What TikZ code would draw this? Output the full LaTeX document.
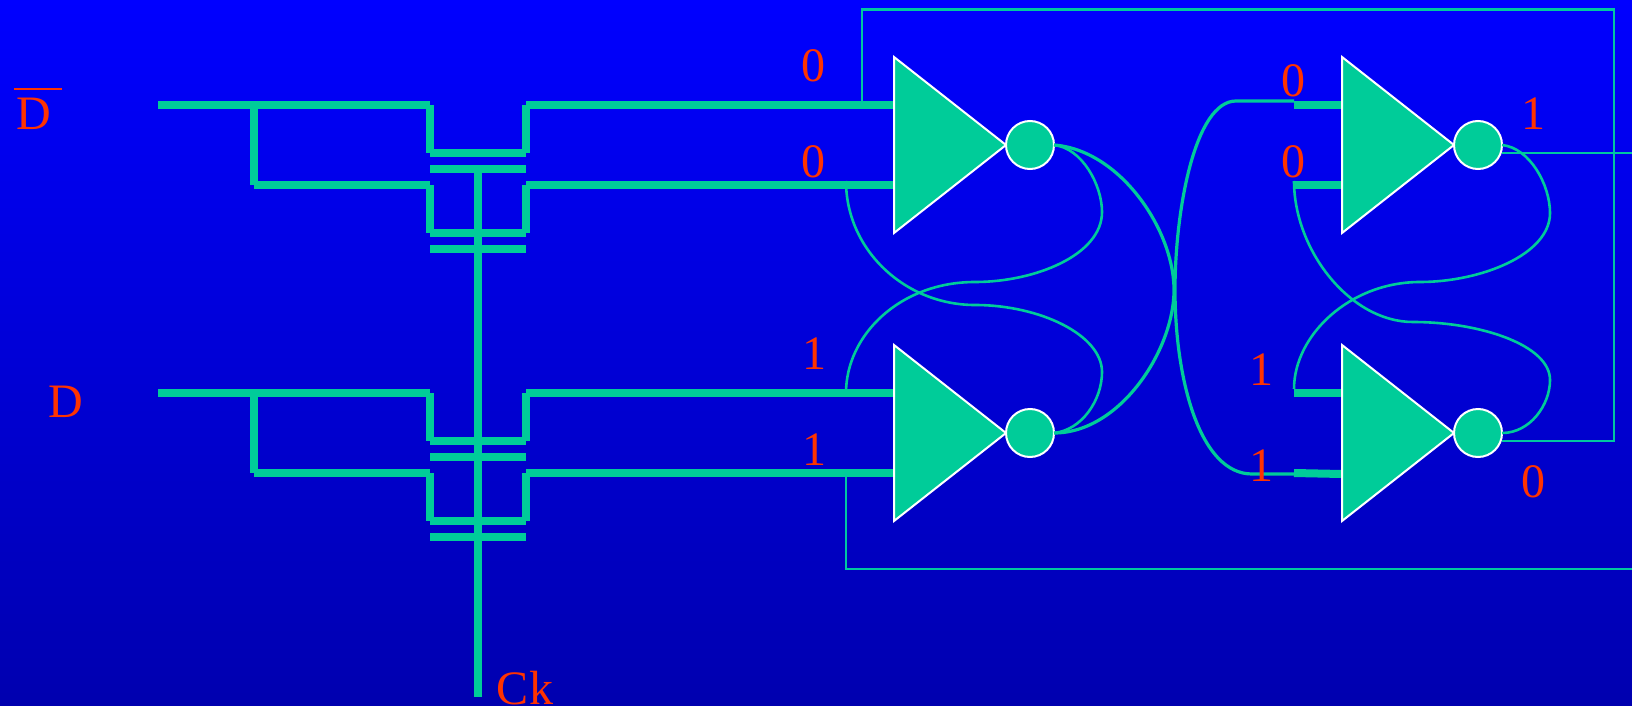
\documentclass[tikz,border=0pt]{standalone}
\usepackage{fontspec}
\setmainfont{Liberation Serif}
\usetikzlibrary{shapes.geometric}
\definecolor{wirecol}{RGB}{0,204,153}
\definecolor{thincol}{RGB}{0,200,160}
\definecolor{labelcol}{RGB}{255,51,0}
\definecolor{bgtop}{RGB}{0,0,255}
\definecolor{bgbot}{RGB}{0,0,175}
\tikzset{
  x=1pt,y=-1pt,
  buswire/.style={draw=wirecol,line width=8pt,line cap=butt,line join=miter},
  clockwire/.style={draw=wirecol,line width=7.8pt,line cap=butt},
  thinwire/.style={draw=thincol,line width=2.4pt,line join=miter},
  curvewire/.style={draw=wirecol,line width=2.6pt},
  heavycurve/.style={draw=wirecol,line width=3.2pt},
  gatetri/.style={shape=isosceles triangle,isosceles triangle stretches,minimum width=176pt,minimum height=112pt,inner sep=0pt,outer sep=0pt,shape border rotate=0,draw=white,fill=wirecol,line width=2pt,line join=miter,anchor=apex},
  bubble/.style={shape=circle,minimum size=48pt,inner sep=0pt,outer sep=0pt,draw=white,fill=wirecol,line width=2pt},
  siglabel/.style={text=labelcol,font=\fontsize{48}{48}\selectfont,inner sep=0pt,outer sep=0pt,anchor=base},
}
\begin{document}
\begin{tikzpicture}
\path[use as bounding box] (0,0) rectangle (1632,706);
\fill[top color=bgtop,bottom color=bgbot] (0,0) rectangle (1632,706);

% pins of the gates
\coordinate (p1a) at (894,105);  \coordinate (p1b) at (894,185);
\coordinate (p2a) at (894,393);  \coordinate (p2b) at (894,473);
\coordinate (p3a) at (1342,105); \coordinate (p3b) at (1342,185);
\coordinate (p4a) at (1342,393); \coordinate (p4b) at (1342,474);
\coordinate (s3a) at (1294,105); \coordinate (s3b) at (1294,185);
\coordinate (s4a) at (1294,393); \coordinate (s4b) at (1294,473);

% input stages
\foreach \p/\o in {a/0,b/288}{
  \coordinate (\p in)  at (158,{105+\o});
  \coordinate (\p j)   at (254,{105+\o});
  \coordinate (\p k)   at (254,{185+\o});
  \coordinate (\p L1)  at (430,{105+\o});
  \coordinate (\p L2)  at (430,{153+\o});
  \coordinate (\p R2)  at (526,{153+\o});
  \coordinate (\p R1)  at (526,{105+\o});
  \coordinate (\p L3)  at (430,{185+\o});
  \coordinate (\p L4)  at (430,{233+\o});
  \coordinate (\p R4)  at (526,{233+\o});
  \coordinate (\p R3)  at (526,{185+\o});
  \coordinate (\p PL1) at (430,{169+\o});
  \coordinate (\p PR1) at (526,{169+\o});
  \coordinate (\p PL2) at (430,{249+\o});
  \coordinate (\p PR2) at (526,{249+\o});
  \path[buswire] (\p in) -- (\p L1);
  \path[buswire] (\p j) -- (\p k);
  \path[buswire] (\p k) -- (\p L3);
  \path[buswire] (\p L1) -- (\p L2);
  \path[buswire] (\p L2) -- (\p R2);
  \path[buswire] (\p R2) -- (\p R1);
  \path[buswire] (\p L3) -- (\p L4);
  \path[buswire] (\p L4) -- (\p R4);
  \path[buswire] (\p R4) -- (\p R3);
  \path[buswire] (\p PL1) -- (\p PR1);
  \path[buswire] (\p PL2) -- (\p PR2);
}
\path[buswire] (aR1) -- (p1a);
\path[buswire] (aR3) -- (p1b);
\path[buswire] (bR1) -- (p2a);
\path[buswire] (bR3) -- (p2b);

% clock line
\coordinate (cktop) at (478,169);
\coordinate (ckend) at (478,697);
\path[clockwire] (cktop) -- (ckend);

% input stubs of the second stage
\path[buswire] (s3a) -- (p3a);
\path[buswire] (s3b) -- (p3b);
\path[buswire] (s4a) -- (p4a);
\path[buswire] (s4b) -- (p4b);

% gates
\node[gatetri] (g1) at (1006,145) {};
\node[gatetri] (g2) at (1006,433) {};
\node[gatetri] (g3) at (1454,145) {};
\node[gatetri] (g4) at (1454,433) {};
\node[bubble] (b1) at (1030,145) {};
\node[bubble] (b2) at (1030,433) {};
\node[bubble] (b3) at (1478,145) {};
\node[bubble] (b4) at (1478,433) {};

% long feedback wires
\coordinate (t0) at (862,105);
\coordinate (t1) at (862,9.5);
\coordinate (t2) at (1614,9.5);
\coordinate (t3) at (1614,441);
\coordinate (t4) at (1502,441);
\path[thinwire] (t0) -- (t1) -- (t2) -- (t3) -- (t4);
\coordinate (u0) at (846,473);
\coordinate (u1) at (846,569);
\coordinate (u2) at (1632,569);
\path[thinwire] (u0) -- (u1) -- (u2);
\coordinate (v0) at (1502,153);
\coordinate (v1) at (1632,153);
\path[thinwire] (v0) -- (v1);

% cross-coupling curves
\coordinate (c1) at (846,393);
\coordinate (c2) at (846,181);
\coordinate (c3) at (1294,389);
\coordinate (c4) at (1294,181);
\path[curvewire] (b1.east) .. controls (1082,148) and (1102,185) .. (1102,212)
   .. controls (1102,255) and (1035,282) .. (975,282)
   .. controls (900,282) and (846,335) .. (c1);
\path[curvewire] (b2.east) .. controls (1082,430) and (1102,400) .. (1102,372)
   .. controls (1102,335) and (1040,305) .. (975,305)
   .. controls (905,305) and (846,250) .. (c2);
\path[heavycurve] (b1.east) .. controls (1120,150) and (1174,230) .. (1174,290)
   .. controls (1174,350) and (1120,433) .. (b2.east);
\coordinate (w0) at (1294,101);
\coordinate (w1) at (1236,101);
\coordinate (w2) at (1252,474);
\coordinate (w3) at (1294,474);
\path[heavycurve] (w0) -- (w1) .. controls (1195,101) and (1175,210) .. (1175,290)
   .. controls (1175,380) and (1200,474) .. (w2) -- (w3);
\path[curvewire] (b3.east) .. controls (1530,148) and (1550,185) .. (1550,213)
   .. controls (1550,255) and (1480,282) .. (1420,282)
   .. controls (1350,282) and (1294,335) .. (c3);
\path[curvewire] (b4.east) .. controls (1530,433) and (1550,405) .. (1550,380)
   .. controls (1550,345) and (1480,322) .. (1413,322)
   .. controls (1350,322) and (1294,250) .. (c4);

% labels
\node[siglabel] (dbar) at (34,129) {D};
\coordinate (o0) at (14,89);
\coordinate (o1) at (62,89);
\draw[labelcol,line width=2.7pt] (o0) -- (o1);
\node[siglabel] (dlab) at (66,417) {D};
\node[siglabel] (cklab) at (525,704) {Ck};
\node[siglabel] (l1) at (813,81.5) {0};
\node[siglabel] (l2) at (813,177.5) {0};
\node[siglabel] (l3) at (814,369) {1};
\node[siglabel] (l4) at (814,465) {1};
\node[siglabel] (l5) at (1293,97) {0};
\node[siglabel] (l6) at (1293,177) {0};
\node[siglabel] (l7) at (1261,385) {1};
\node[siglabel] (l8) at (1261,481) {1};
\node[siglabel] (l9) at (1533,129) {1};
\node[siglabel] (l10) at (1533,497) {0};
\end{tikzpicture}
\end{document}
